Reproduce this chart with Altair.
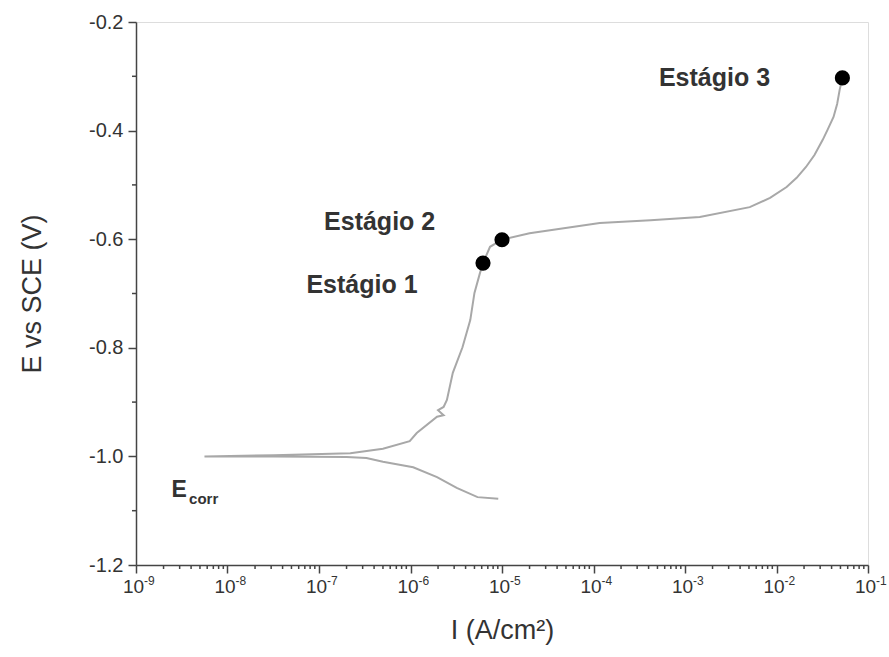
import altair as alt
import pandas as pd

# anodic branch (from Ecorr upward)
anodic_I = [5.6e-9, 3.2e-8, 2.2e-7, 5.0e-7, 9.8e-7, 1.17e-6, 1.95e-6, 2.3e-6, 2.0e-6,
            2.3e-6, 2.5e-6, 2.9e-6, 3.7e-6, 4.5e-6, 5.0e-6, 5.75e-6, 6.2e-6, 7.4e-6,
            1.0e-5, 2.0e-5, 1.17e-4, 4.2e-4, 1.45e-3, 5.1e-3, 8.5e-3, 1.29e-2, 1.66e-2,
            2.1e-2, 2.6e-2, 3.2e-2, 3.6e-2, 4.2e-2, 4.6e-2, 4.9e-2, 5.25e-2]
anodic_E = [-1.000, -0.998, -0.994, -0.986, -0.972, -0.957, -0.927, -0.924, -0.915,
            -0.909, -0.896, -0.846, -0.799, -0.749, -0.699, -0.662, -0.644, -0.614,
            -0.601, -0.589, -0.570, -0.565, -0.559, -0.541, -0.524, -0.504, -0.487,
            -0.467, -0.445, -0.417, -0.399, -0.375, -0.351, -0.325, -0.303]
# cathodic branch (from its far end toward Ecorr)
cath_I = [9.1e-6, 5.4e-6, 3.2e-6, 1.95e-6, 1.07e-6, 5.0e-7, 3.3e-7, 2.0e-7, 3.2e-8]
cath_E = [-1.078, -1.075, -1.058, -1.038, -1.020, -1.010, -1.003, -1.001, -1.000]

stage_names = ["Estágio 1", "Estágio 2", "Estágio 3"]
stage_I = [6.2e-6, 1.0e-5, 5.25e-2]
stage_E = [-0.644, -0.601, -0.303]

label_I = [2.95e-7, 4.6e-7, 2.1e-3]
label_E = [-0.684, -0.568, -0.303]

major_x = [1e-9, 1e-8, 1e-7, 1e-6, 1e-5, 1e-4, 1e-3, 1e-2, 1e-1]
x_exponents = ["-9", "-8", "-7", "-6", "-5", "-4", "-3", "-2", "-1"]
minor_x = [m * d for d in major_x[:-1] for m in range(2, 10)]
major_y = [-1.2, -1.0, -0.8, -0.6, -0.4, -0.2]
minor_y = [-1.1, -0.9, -0.7, -0.5, -0.3]

curve_I = cath_I + anodic_I
curve_E = cath_E + anodic_E
curve = pd.DataFrame({"I": curve_I, "E": curve_E, "o": list(range(len(curve_I)))})
stages = pd.DataFrame({"I": stage_I, "E": stage_E})
labels = pd.DataFrame({"I": label_I, "E": label_E, "t": stage_names})
ecorr_E = pd.DataFrame({"I": [2.45e-9], "E": [-1.062], "t": ["E"]})
ecorr_sub = pd.DataFrame({"I": [3.8e-9], "E": [-1.078], "t": ["corr"]})
expo = pd.DataFrame({"I": major_x, "t": x_exponents})

W, H = 732, 543
GRAY = "#444444"
TXT = "#333333"
FONT = "Liberation Sans"

xscale = alt.Scale(type="log", domain=[1e-9, 1e-1], nice=False)
yscale = alt.Scale(domain=[-1.2, -0.2], nice=False, zero=False)

xaxis = alt.Axis(values=major_x, labelExpr="'10'", tickSize=8, labelOffset=-3,
                 labelFontSize=19, labelColor=TXT, labelFont=FONT, labelPadding=4,
                 title="I (A/cm²)", titleFontSize=27, titleFontWeight="normal",
                 titleColor=TXT, titleFont=FONT, titlePadding=21,
                 domainColor=GRAY, domainWidth=1.5, tickColor=GRAY, tickWidth=1.5,
                 grid=False, labelFlush=False, labelOverlap=False)
yaxis = alt.Axis(values=major_y,
                 labelExpr="(datum.value < 0 ? '-' : '') + format(abs(datum.value), '.1f')",
                 tickSize=8,
                 labelFontSize=20, labelColor=TXT, labelFont=FONT, labelPadding=5,
                 title="E vs SCE (V)", titleFontSize=27, titleFontWeight="normal",
                 titleColor=TXT, titleFont=FONT, titlePadding=42,
                 domainColor=GRAY, domainWidth=1.5, tickColor=GRAY, tickWidth=1.5,
                 grid=False, labelFlush=False, labelOverlap=False)

line = alt.Chart(curve).mark_line(color="#a8a8a8", strokeWidth=2).encode(
    x=alt.X("I:Q", scale=xscale, axis=xaxis),
    y=alt.Y("E:Q", scale=yscale, axis=yaxis),
    order="o:Q",
)
pts = alt.Chart(stages).mark_circle(color="black", size=230, opacity=1).encode(
    x=alt.X("I:Q", scale=xscale), y=alt.Y("E:Q", scale=yscale))
txt = alt.Chart(labels).mark_text(font=FONT, fontSize=25, fontWeight="bold",
                                  color=TXT, align="center", baseline="middle").encode(
    x=alt.X("I:Q", scale=xscale), y=alt.Y("E:Q", scale=yscale), text="t:N")
e1 = alt.Chart(ecorr_E).mark_text(font=FONT, fontSize=23, fontWeight="bold",
                                  color=TXT, align="left", baseline="middle").encode(
    x=alt.X("I:Q", scale=xscale), y=alt.Y("E:Q", scale=yscale), text="t:N")
e2 = alt.Chart(ecorr_sub).mark_text(font=FONT, fontSize=15, fontWeight="bold",
                                    color=TXT, align="left", baseline="middle").encode(
    x=alt.X("I:Q", scale=xscale), y=alt.Y("E:Q", scale=yscale), text="t:N")
ex = alt.Chart(expo).mark_text(font=FONT, fontSize=12, color=TXT, align="left",
                               baseline="middle", dx=8).encode(
    x=alt.X("I:Q", scale=xscale), y=alt.value(H + 16), text="t:N")
mx = alt.Chart(pd.DataFrame({"I": minor_x})).mark_rule(color=GRAY, strokeWidth=1.5).encode(
    x=alt.X("I:Q", scale=xscale), y=alt.value(H), y2=alt.value(H + 4))
my = alt.Chart(pd.DataFrame({"E": minor_y})).mark_rule(color=GRAY, strokeWidth=1.5).encode(
    y=alt.Y("E:Q", scale=yscale), x=alt.value(0), x2=alt.value(-4))

chart = alt.layer(line, mx, my, pts, txt, e1, e2, ex).properties(
    width=W, height=H,
    autosize=alt.AutoSizeParams(type="none"),
    padding={"left": 136, "top": 22, "right": 21, "bottom": 92},
).configure_view(stroke=GRAY, strokeWidth=1.5).configure(background="white")

chart.save("out.html", embed_options={"renderer": "svg", "actions": False})
